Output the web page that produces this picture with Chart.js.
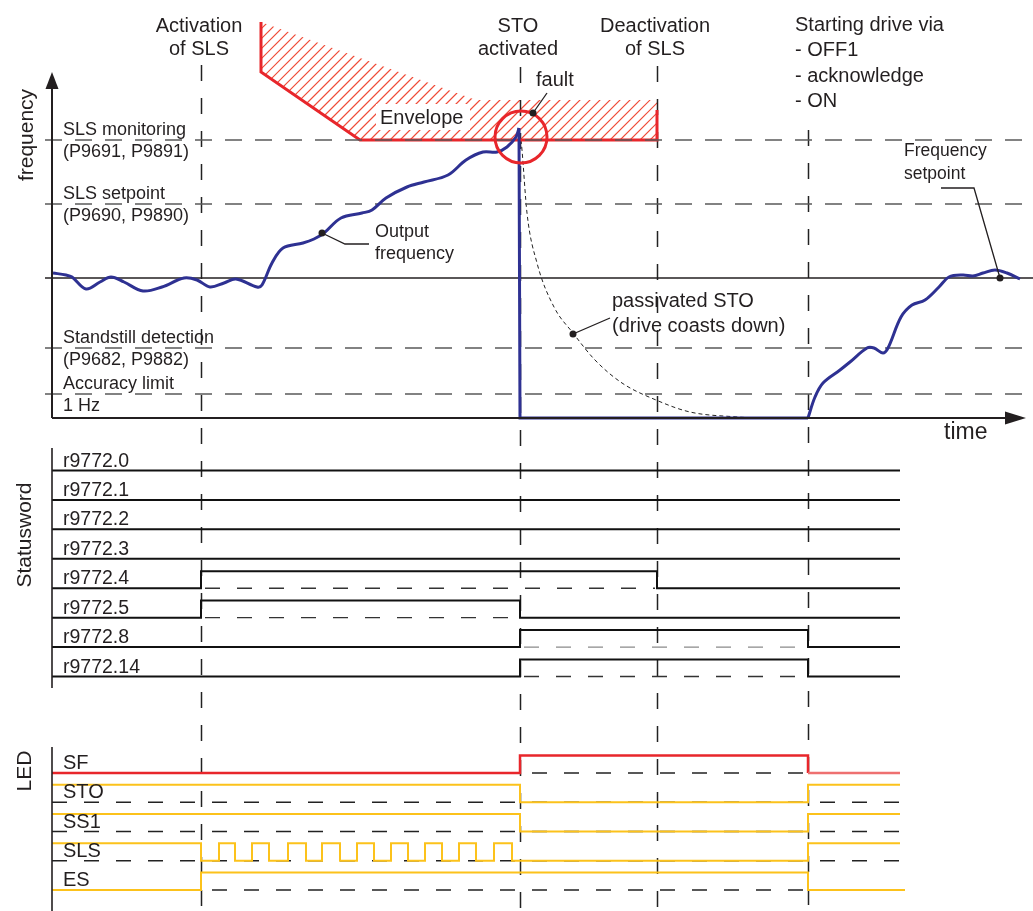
<!DOCTYPE html>
<html>
<head>
<meta charset="utf-8">
<script src="https://cdn.jsdelivr.net/npm/chart.js@4/dist/chart.umd.min.js"></script>
<style>
  html, body { margin: 0; padding: 0; background: #fff; }
  #timing { display: block; }
</style>
</head>
<body>
<canvas id="timing" width="1033" height="911"></canvas>
<script>
const W = 1033, H = 911;

// time base shared by all three panels (0 = frequency axis)
const eventTimes = [149, 468, 605, 756]; // SLS on, STO, SLS off, restart

// frequency panel
const thresholdNames = [
    ['SLS monitoring', '(P9691, P9891)'],
    ['SLS setpoint', '(P9690, P9890)'],
    ['Standstill detection', '(P9682, P9882)'],
    ['Accuracy limit', '1 Hz']
];
const thresholdValues = [139, 107, 35, 12];
const setpointValue = 70;

const outputRamp = [[1,72.5],[14,71.5],[20,70.5],[34,64.5],[48,68],[59,70.5],[72,68],[91,63.5],[110,65.5],
    [132,70],[145,69],[158,65.5],[172,67.5],[184,69.5],[205,65.5],[210,66.5],[220,77.5],[231,85],[251,87.5],
    [262,89.5],[272,92.5],[289,100],[310,102.5],[320,104],[334,110],[355,115.5],[372,118],[396,121.5],
    [414,129],[431,133],[445,133],[455,135.5],[464,140.5],[467,145]];
const outputStopped = [[467,145],[468,0],[756,0]];
const outputRestart = [[756,0],[763,10.5],[771,17.5],[788,24],[798,28],[815,35],[822,35],[831,32.5],[836,35],
    [849,50.5],[860,56.5],[873,59],[887,65.5],[897,70.5],[911,71.5],[921,71],[931,72.5],[943,74],[955,72.5],[968,69.5]];
const coastDown = [[469,139],[470,134],[475,102.5],[485,77.5],[502,55.5],[521,42.5],[543,29],[570,17.5],
    [604,9],[638,3],[686,0.5],[704,0]];
const envelopeEdge = [[209,198],[209,173],[308,139],[605,139],[605,154]];
const envelopeArea = [[209,198],[424,159],[605,159],[605,139],[308,139],[209,173]];
const faultPoint = [469, 140.5];

// statusword panel: [time, bit] where the bit holds from that time on
const statusNames = ['r9772.0', 'r9772.1', 'r9772.2', 'r9772.3', 'r9772.4', 'r9772.5', 'r9772.8', 'r9772.14'];
const statusSteps = [
    [[0,0],[848,0]],
    [[0,0],[848,0]],
    [[0,0],[848,0]],
    [[0,0],[848,0]],
    [[0,0],[149,1],[605,0],[848,0]],
    [[0,0],[149,1],[468,0],[848,0]],
    [[0,0],[468,1],[756,0],[848,0]],
    [[0,0],[468,1],[756,0],[848,0]]
];

// LED panel
const ledNames = ['SF', 'STO', 'SS1', 'SLS', 'ES'];
const ledSteps = [
    [[0,0],[468,1],[756,0],[848,0]],
    [[0,1],[468,0],[756,1],[848,1]],
    [[0,1],[468,0],[756,1],[848,1]],
    [[0,1],[149,0],[167,1],[183,0],[200,1],[217,0],[236,1],[254,0],[270,1],[288,0],[305,1],[322,0],
     [339,1],[356,0],[373,1],[390,0],[407,1],[424,0],[442,1],[460,0],[756,1],[848,1]],
    [[0,0],[149,1],[756,0],[853,0]]
];

const RED = '#e8262b', YELLOW = '#fcc21b', BLUE = '#2e3192', INK = '#231f20', HATCH = '#ef4a36';
const FONT = '"Liberation Sans", Arial, sans-serif';

const pts = arr => arr.map(([x, y]) => ({x, y}));

// each panel gets its own y scale, laid out by pixel of zero and pixels per unit
const band = (zeroPx, pxPerUnit, reverse) => reverse
    ? {min: -zeroPx / pxPerUnit, max: (H - zeroPx) / pxPerUnit, reverse: true}
    : {min: -(H - zeroPx) / pxPerUnit, max: zeroPx / pxPerUnit};

const base = {pointRadius: 0, tension: 0, fill: false, borderWidth: 1.5, borderColor: INK, clip: false, xAxisID: 'x'};
const ds = (data, yAxisID, style) => Object.assign({}, base, {data: pts(data), yAxisID}, style);

const datasets = [];

// frequency panel
datasets.push(ds(outputRamp, 'f', {borderColor: BLUE, borderWidth: 3, tension: 0.35, order: 1}));
datasets.push(ds(outputStopped, 'f', {borderColor: BLUE, borderWidth: 3, order: 1}));
datasets.push(ds(outputRestart, 'f', {borderColor: BLUE, borderWidth: 3, tension: 0.35, order: 1}));
datasets.push(ds(coastDown, 'f', {borderColor: '#222', borderWidth: 1, borderDash: [4, 3], cubicInterpolationMode: 'monotone', order: 4}));
datasets.push(ds([faultPoint], 'f', {showLine: false, pointRadius: 26, pointStyle: 'circle', pointBorderColor: RED,
    pointBorderWidth: 3, pointBackgroundColor: 'rgba(0,0,0,0)', order: 0}));
datasets.push(ds(envelopeEdge, 'f', {borderColor: RED, borderWidth: 3, order: 2}));
thresholdValues.forEach(v => {
    datasets.push(ds([[-7, v], [981, v]], 'f', {borderColor: '#5a5a5a', borderWidth: 1.3, borderDash: [17, 13], order: 1.5}));
});
datasets.push(ds([[-7, setpointValue], [981, setpointValue]], 'f', {borderColor: INK, borderWidth: 1.3, order: 7}));

// statusword panel
const SW_HIGH = 0.58;
statusSteps.forEach((steps, i) => {
    datasets.push(ds(steps.map(([t, b]) => [t, i - SW_HIGH * b]), 's', {stepped: true, borderWidth: 2, borderColor: '#111', order: 3}));
    steps.forEach(([t, b], k) => {
        if (b === 1 && steps[k + 1]) {
            datasets.push(ds([[t + 4, i], [steps[k + 1][0] - 2, i]], 's',
                {borderColor: i === 6 ? '#8a8a8a' : '#333', borderWidth: 1.4, borderDash: [15, 17], order: 5}));
        }
    });
});

// LED panel
const LED_HIGH = 0.6;
ledSteps.forEach((steps, i) => {
    const last = steps[steps.length - 1][0];
    datasets.push(ds([[0, i], [last, i]], 'l', {borderColor: '#222', borderWidth: 1.4, borderDash: [15, 17], order: 6}));
    const style = i === 0
        ? {borderColor: RED, borderWidth: 2.5, segment: {borderColor: c => c.p0.parsed.x >= eventTimes[3] ? '#ee7070' : RED}}
        : {borderColor: YELLOW, borderWidth: 2};
    datasets.push(ds(steps.map(([t, b]) => [t, i - LED_HIGH * b]), 'l', Object.assign({stepped: true, order: 2}, style)));
});

const hiddenScale = {type: 'linear', display: false, bounds: 'data'};

const timingDecor = {
    id: 'timingDecor',
    beforeDatasetsDraw(chart) {
        const ctx = chart.ctx;
        const X = t => chart.scales.x.getPixelForValue(t);
        const F = v => chart.scales.f.getPixelForValue(v);

        // hatched envelope region
        ctx.save();
        ctx.beginPath();
        envelopeArea.forEach(([t, v], k) => k ? ctx.lineTo(X(t), F(v)) : ctx.moveTo(X(t), F(v)));
        ctx.closePath();
        ctx.clip();
        ctx.setLineDash([]);
        ctx.strokeStyle = HATCH;
        ctx.lineWidth = 1.2;
        for (let c = 0; c < W + H; c += 10) {
            ctx.beginPath();
            ctx.moveTo(c - 200, 200);
            ctx.lineTo(c, 0);
            ctx.stroke();
        }
        ctx.restore();

        // event markers
        const tops = [65, 67, 66, 130];
        ctx.save();
        ctx.strokeStyle = '#222';
        ctx.lineWidth = 1.5;
        ctx.setLineDash([16, 17]);
        eventTimes.forEach((t, i) => {
            ctx.beginPath();
            ctx.moveTo(Math.round(X(t)) + 0.5, tops[i]);
            ctx.lineTo(Math.round(X(t)) + 0.5, H);
            ctx.stroke();
        });
        ctx.restore();
    },
    afterDatasetsDraw(chart) {
        const ctx = chart.ctx;
        const X = t => chart.scales.x.getPixelForValue(t);
        const F = v => chart.scales.f.getPixelForValue(v);
        const S = v => chart.scales.s.getPixelForValue(v);
        const L = v => chart.scales.l.getPixelForValue(v);
        const x0 = X(0);

        const text = (str, x, y, size, align) => {
            ctx.font = size + 'px ' + FONT;
            ctx.textAlign = align || 'left';
            ctx.textBaseline = 'alphabetic';
            ctx.fillText(str, x, y);
        };
        const vtext = (str, x, y, size) => {
            ctx.save();
            ctx.translate(x, y);
            ctx.rotate(-Math.PI / 2);
            ctx.font = size + 'px ' + FONT;
            ctx.textAlign = 'center';
            ctx.textBaseline = 'middle';
            ctx.fillText(str, 0, 0);
            ctx.restore();
        };
        const dot = (x, y) => {
            ctx.beginPath();
            ctx.arc(x, y, 3.5, 0, Math.PI * 2);
            ctx.fill();
        };
        const poly = list => {
            ctx.beginPath();
            list.forEach(([x, y], k) => k ? ctx.lineTo(x, y) : ctx.moveTo(x, y));
            ctx.stroke();
        };

        ctx.save();
        ctx.fillStyle = INK;
        ctx.strokeStyle = INK;

        // axes
        ctx.lineWidth = 2;
        poly([[x0, F(0)], [x0, 84]]);
        poly([[x0, F(0)], [1008, F(0)]]);
        ctx.beginPath();
        ctx.moveTo(x0, 72); ctx.lineTo(x0 - 6.5, 89); ctx.lineTo(x0 + 6.5, 89); ctx.closePath(); ctx.fill();
        ctx.beginPath();
        ctx.moveTo(1026, F(0)); ctx.lineTo(1005, F(0) - 6.5); ctx.lineTo(1005, F(0) + 6.5); ctx.closePath(); ctx.fill();
        ctx.lineWidth = 1.6;
        poly([[x0, 448], [x0, 688]]);
        poly([[x0, 747], [x0, H]]);

        // event headers
        const heads = [['Activation', 'of SLS'], ['STO', 'activated'], ['Deactivation', 'of SLS']];
        heads.forEach((lines, i) => {
            lines.forEach((s, k) => text(s, X(eventTimes[i]) - 2, 32 + 23 * k, 20, 'center'));
        });
        ['Starting drive via', '- OFF1', '- acknowledge', '- ON'].forEach((s, k) => {
            text(s, X(eventTimes[3]) - 13, 31 + 25.3 * k, 20);
        });

        // threshold names
        thresholdNames.forEach((lines, i) => {
            text(lines[0], X(11), F(thresholdValues[i]) - 5, 18);
            text(lines[1], X(11), F(thresholdValues[i]) + 17, 18);
        });

        // callouts
        ctx.lineWidth = 1.3;
        let px = X(270), py = F(92.5);
        dot(px, py);
        poly([[px, py], [px + 23, py + 11], [px + 47, py + 11]]);
        text('Output', 375, 237, 18);
        text('frequency', 375, 259, 18);

        px = X(481); py = F(152.5);
        dot(px, py);
        poly([[px, py], [px + 14, py - 20]]);
        text('fault', 536, 86, 20);

        // clear the hatch behind the envelope label
        ctx.fillStyle = '#fff';
        ctx.fillRect(376, 104, 94, 26);
        ctx.fillStyle = INK;
        text('Envelope', 380, 124, 20);

        px = X(521); py = F(42);
        dot(px, py);
        poly([[px, py], [px + 37, py - 16]]);
        text('passivated STO', 612, 307, 20);
        text('(drive coasts down)', 612, 332, 20);

        px = X(948); py = F(setpointValue);
        dot(px, py);
        poly([[px, py], [px - 26, py - 90], [px - 59, py - 90]]);
        text('Frequency', 904, 156, 17.5);
        text('setpoint', 904, 179, 17.5);

        text('time', 944, 439, 23);

        // panel titles
        vtext('frequency', 27, 135, 21);
        vtext('Statusword', 25, 535, 21);
        vtext('LED', 25, 771, 21);

        // row names
        statusNames.forEach((s, i) => text(s, X(11), S(i) - 4, 19.5));
        ledNames.forEach((s, i) => text(s, X(11), L(i) - 4, 20));

        ctx.restore();
    }
};

new Chart(document.getElementById('timing'), {
    type: 'line',
    data: {datasets},
    options: {
        responsive: false,
        animation: false,
        events: [],
        layout: {padding: 0, autoPadding: false},
        plugins: {legend: {display: false}, tooltip: {enabled: false}, title: {display: false}},
        scales: {
            x: Object.assign({}, hiddenScale, {min: -52, max: W - 52}),
            f: Object.assign({}, hiddenScale, band(418, 2, false)),
            s: Object.assign({}, hiddenScale, band(470.5, 29.43, true)),
            l: Object.assign({}, hiddenScale, band(773, 29.25, true))
        }
    },
    plugins: [timingDecor]
});
</script>
</body>
</html>
